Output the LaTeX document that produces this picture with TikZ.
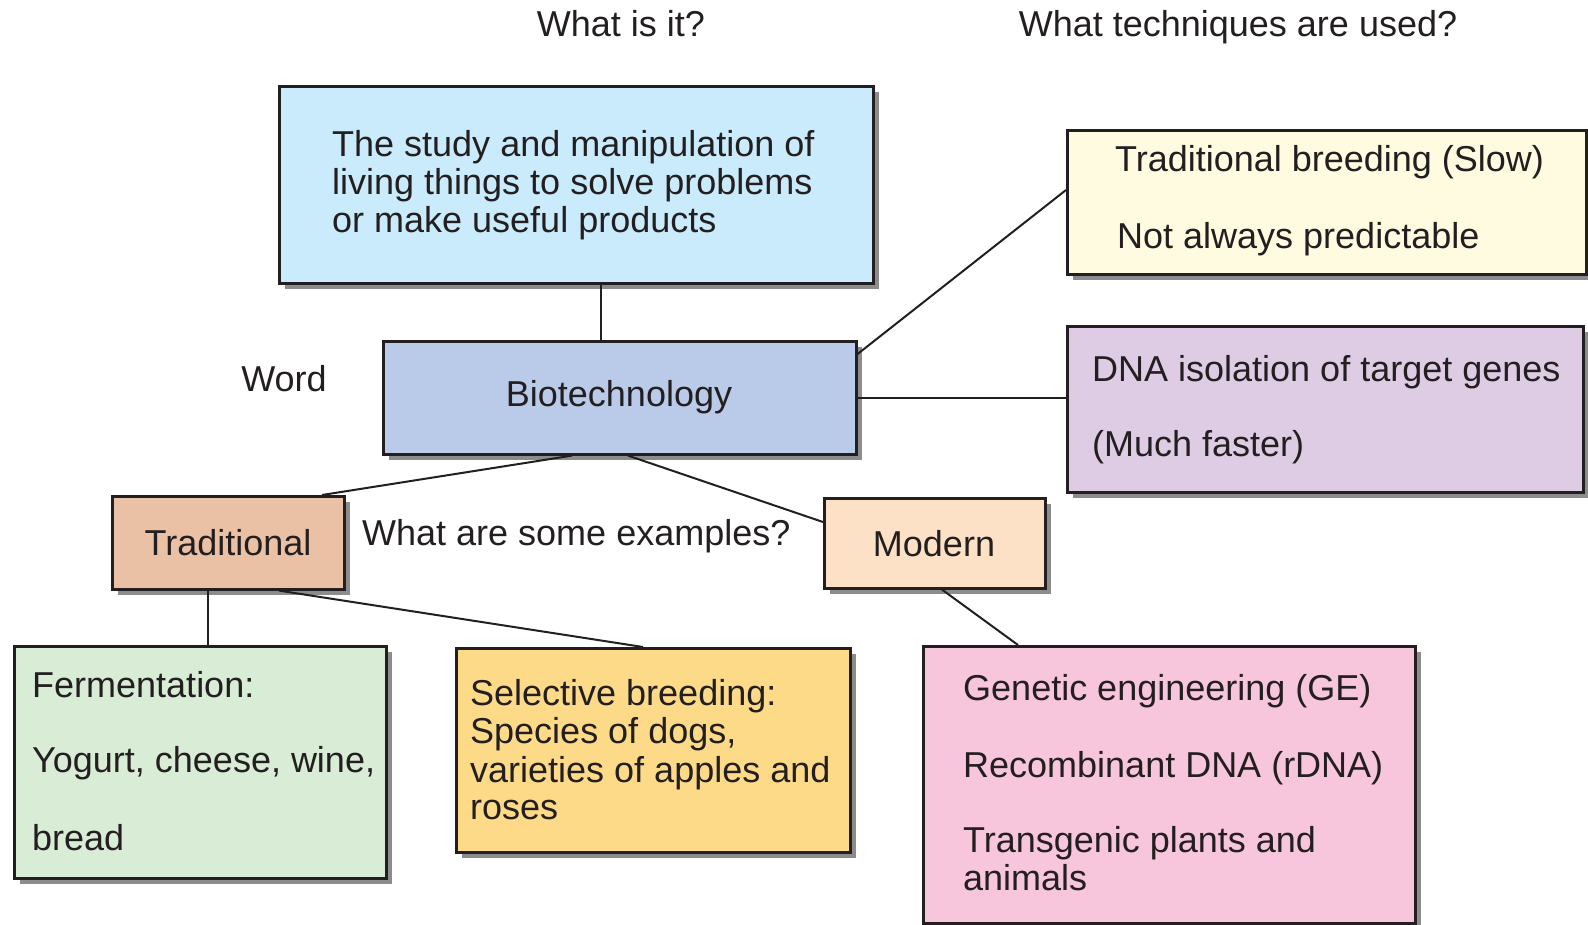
\documentclass[tikz,border=0pt]{standalone}
\usepackage{fontspec}
\setmainfont{Liberation Sans}
\usetikzlibrary{shadows,calc}
\definecolor{ink}{HTML}{231F20}
\definecolor{cTop}{HTML}{C9EBFB}
\definecolor{cBio}{HTML}{BACBE9}
\definecolor{cTrad}{HTML}{EBC1A6}
\definecolor{cMod}{HTML}{FDE1C7}
\definecolor{cFerm}{HTML}{D8ECD6}
\definecolor{cSel}{HTML}{FDDA88}
\definecolor{cGE}{HTML}{F7C5DC}
\definecolor{cYel}{HTML}{FEFBE1}
\definecolor{cPur}{HTML}{DECCE5}
\begin{document}
\begin{tikzpicture}[x=1pt,y=-1pt,
  box/.style={draw=ink, line width=2.6pt, anchor=north west, inner sep=0pt,
    drop shadow={shadow xshift=6pt, shadow yshift=-6pt, fill=black!45, opacity=1}},
  txt/.style={anchor=base west, inner sep=0pt, text=ink, font=\fontsize{36}{38}\selectfont},
  ctxt/.style={anchor=base, inner sep=0pt, text=ink, font=\fontsize{36}{38}\selectfont},
  link/.style={draw=ink, line width=2pt}]
\useasboundingbox (0,0) rectangle (1588,924);
% boxes
\node[box, fill=cTop, minimum width=594pt, minimum height=197pt] (top) at (278,85) {};
\node[box, fill=cBio, minimum width=473pt, minimum height=113pt] (bio) at (382,340) {};
\node[box, fill=cTrad, minimum width=232pt, minimum height=93pt] (trad) at (111,495) {};
\node[box, fill=cMod, minimum width=221pt, minimum height=90pt] (mod) at (823,497) {};
\node[box, fill=cFerm, minimum width=372pt, minimum height=232pt] (ferm) at (13,645) {};
\node[box, fill=cSel, minimum width=394pt, minimum height=204pt] (sel) at (455,647) {};
\node[box, fill=cGE, minimum width=492pt, minimum height=277pt] (ge) at (922,645) {};
\node[box, fill=cYel, minimum width=519pt, minimum height=144pt] (yel) at (1066,129) {};
\node[box, fill=cPur, minimum width=516pt, minimum height=166pt] (pur) at (1066,325) {};
% connectors
\draw[link] ($(top.south west)!0.542!(top.south east)$) coordinate (ta) -- (ta |- bio.north);
\draw[link] ($(bio.north east)+(0,14)$) -- ($(yel.north west)+(0,61)$);
\draw[link] (bio.east) -- (bio.east -| pur.west);
\draw[link] ($(bio.south west)+(190,0)$) -- ($(trad.north west)+(211,0)$);
\draw[link] ($(bio.south west)+(246,0)$) -- ($(mod.north west)+(0,25)$);
\draw[link] ($(trad.south west)+(97,0)$) coordinate (tb) -- (tb |- ferm.north);
\draw[link] ($(trad.south west)+(168,0)$) -- ($(sel.north west)+(188,0)$);
\draw[link] ($(mod.south west)+(119,0)$) -- ($(ge.north west)+(96,0)$);
% free labels
\node[ctxt] (q1) at (621,36) {What is it?};
\node[ctxt] (q2) at (1238,36) {What techniques are used?};
\node[ctxt] (word) at (284,391) {Word};
\node[txt] (q3) at (362,545) {What are some examples?};
% box texts
\node[txt] (top1) at (332,156) {The study and manipulation of};
\node[txt] (top2) at (332,194) {living things to solve problems};
\node[txt] (top3) at (332,232) {or make useful products};
\node[ctxt] (biot) at (619,406) {Biotechnology};
\node[ctxt] (tradt) at (228,555) {Traditional};
\node[ctxt] (modt) at (934,556) {Modern};
\node[txt] (f1) at (32,697) {Fermentation:};
\node[txt] (f2) at (32,772) {Yogurt, cheese, wine,};
\node[txt] (f3) at (32,850) {bread};
\node[txt] (s1) at (470,705) {Selective breeding:};
\node[txt] (s2) at (470,743) {Species of dogs,};
\node[txt] (s3) at (470,782) {varieties of apples and};
\node[txt] (s4) at (470,819) {roses};
\node[txt] (g1) at (963,700) {Genetic engineering (GE)};
\node[txt] (g2) at (963,777) {Recombinant DNA (rDNA)};
\node[txt] (g3) at (963,852) {Transgenic plants and};
\node[txt] (g4) at (963,890) {animals};
\node[txt] (y1) at (1115,171) {Traditional breeding (Slow)};
\node[txt] (y2) at (1117,248) {Not always predictable};
\node[txt] (p1) at (1092,381) {DNA isolation of target genes};
\node[txt] (p2) at (1092,456) {(Much faster)};
\end{tikzpicture}
\end{document}
